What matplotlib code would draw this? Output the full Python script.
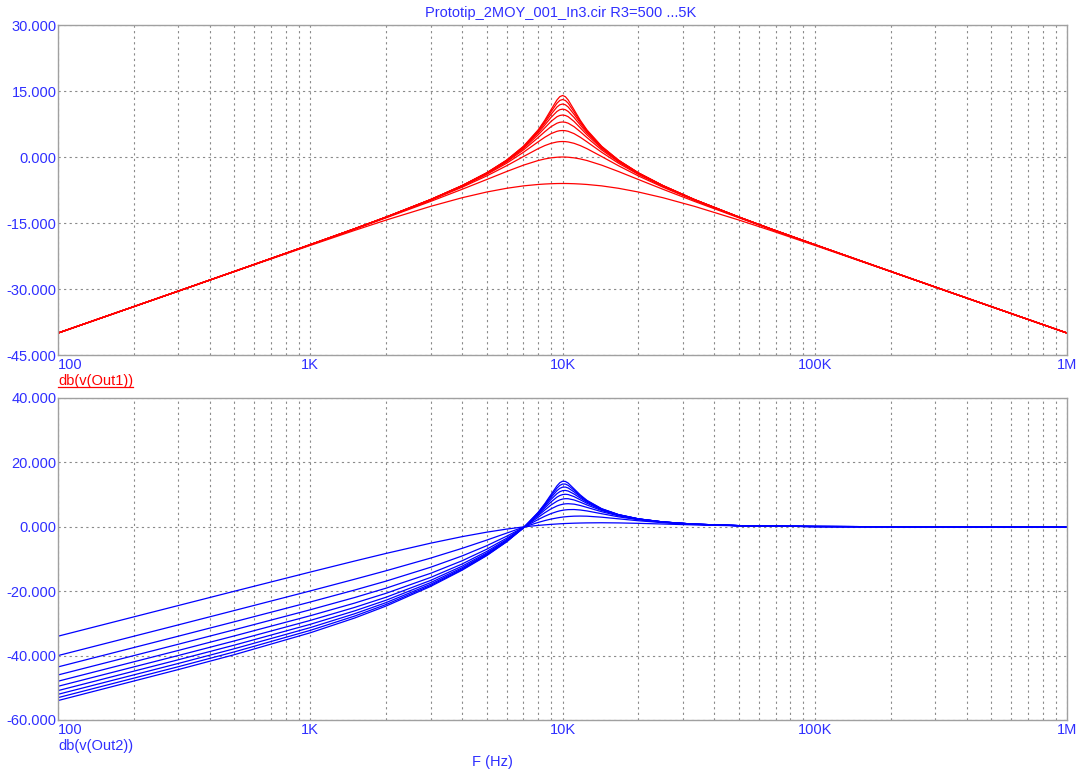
import matplotlib
matplotlib.use("Agg")
import matplotlib.pyplot as plt
from matplotlib.lines import Line2D
from matplotlib.ticker import FixedLocator, NullFormatter

plt.rcParams["font.family"] = ["Liberation Sans", "DejaVu Sans"]

# Data (dB values at each frequency, one list per R3 step)
freq_hz = [100, 300, 500, 1000, 1500, 2000, 3000, 4000, 5000, 6000, 7000,
           8000, 8500, 9000, 9500, 9750, 10000, 10260, 10530, 11110, 11760,
           12500, 14290, 16670, 20000, 25000, 33330, 50000, 66670, 100000,
           200000, 333300, 1000000]
r3_values = [500, 1000, 1500, 2000, 2500, 3000, 3500, 4000, 4500, 5000]

# db(v(Out1))
out1_r500 = [-40.00, -30.47, -26.04, -20.09, -16.67, -14.32, -11.21, -9.25, -7.96, -7.11, -6.56,
             -6.24, -6.14, -6.07, -6.03, -6.02, -6.02, -6.02, -6.03, -6.07, -6.14,
             -6.24, -6.56, -7.11, -7.96, -9.25, -11.21, -14.32, -16.67, -20.09, -26.04, -30.47, -40.00]
out1_r1000 = [-40.00, -30.46, -26.01, -19.96, -16.38, -13.81, -10.09, -7.33, -5.12, -3.30, -1.85,
              -0.80, -0.44, -0.19, -0.05, -0.01, 0.00, -0.01, -0.05, -0.19, -0.44,
              -0.80, -1.85, -3.30, -5.12, -7.33, -10.09, -13.81, -16.38, -19.96, -26.01, -30.46, -40.00]
out1_r1500 = [-40.00, -30.46, -26.00, -19.93, -16.33, -13.71, -9.84, -6.86, -4.31, -1.99, 0.11,
              1.89, 2.59, 3.11, 3.42, 3.50, 3.52, 3.50, 3.42, 3.11, 2.59,
              1.89, 0.11, -1.99, -4.31, -6.86, -9.84, -13.71, -16.33, -19.93, -26.00, -30.46, -40.00]
out1_r2000 = [-40.00, -30.46, -26.00, -19.92, -16.31, -13.67, -9.76, -6.68, -3.98, -1.42, 1.08,
              3.44, 4.48, 5.31, 5.84, 5.98, 6.02, 5.98, 5.84, 5.31, 4.48,
              3.44, 1.08, -1.42, -3.98, -6.68, -9.76, -13.67, -16.31, -19.92, -26.00, -30.46, -40.00]
out1_r2500 = [-40.00, -30.46, -26.00, -19.92, -16.30, -13.65, -9.71, -6.60, -3.82, -1.13, 1.61,
              4.41, 5.74, 6.89, 7.68, 7.89, 7.96, 7.89, 7.68, 6.89, 5.74,
              4.41, 1.61, -1.13, -3.82, -6.60, -9.71, -13.65, -16.30, -19.92, -26.00, -30.46, -40.00]
out1_r3000 = [-40.00, -30.46, -26.00, -19.91, -16.29, -13.65, -9.69, -6.55, -3.73, -0.97, 1.93,
              5.04, 6.62, 8.08, 9.15, 9.44, 9.54, 9.44, 9.15, 8.08, 6.62,
              5.04, 1.93, -0.97, -3.73, -6.55, -9.69, -13.65, -16.29, -19.91, -26.00, -30.46, -40.00]
out1_r3500 = [-40.00, -30.46, -26.00, -19.91, -16.29, -13.64, -9.68, -6.53, -3.68, -0.86, 2.13,
              5.47, 7.25, 8.99, 10.35, 10.75, 10.88, 10.75, 10.35, 8.99, 7.25,
              5.47, 2.13, -0.86, -3.68, -6.53, -9.68, -13.64, -16.29, -19.91, -26.00, -30.46, -40.00]
out1_r4000 = [-40.00, -30.46, -26.00, -19.91, -16.29, -13.64, -9.67, -6.51, -3.64, -0.79, 2.27,
              5.77, 7.72, 9.70, 11.36, 11.87, 12.04, 11.87, 11.36, 9.70, 7.72,
              5.77, 2.27, -0.79, -3.64, -6.51, -9.67, -13.64, -16.29, -19.91, -26.00, -30.46, -40.00]
out1_r4500 = [-40.00, -30.46, -26.00, -19.91, -16.29, -13.63, -9.66, -6.49, -3.62, -0.75, 2.36,
              5.99, 8.07, 10.27, 12.22, 12.85, 13.06, 12.85, 12.22, 10.27, 8.07,
              5.99, 2.36, -0.75, -3.62, -6.49, -9.66, -13.63, -16.29, -19.91, -26.00, -30.46, -40.00]
out1_r5000 = [-40.00, -30.46, -26.00, -19.91, -16.29, -13.63, -9.66, -6.48, -3.60, -0.71, 2.44,
              6.15, 8.34, 10.73, 12.96, 13.71, 13.98, 13.71, 12.96, 10.73, 8.34,
              6.15, 2.44, -0.71, -3.60, -6.48, -9.66, -13.63, -16.29, -19.91, -26.00, -30.46, -40.00]

# db(v(Out2))
out2_r500 = [-33.98, -24.45, -20.02, -14.06, -10.63, -8.26, -5.09, -3.06, -1.68, -0.72, -0.04,
             0.43, 0.60, 0.75, 0.87, 0.93, 0.97, 1.02, 1.05, 1.12, 1.17,
             1.21, 1.25, 1.20, 1.07, 0.86, 0.58, 0.30, 0.18, 0.08, 0.02, 0.01, 0.00]
out2_r1000 = [-40.00, -30.46, -26.00, -19.92, -16.28, -13.64, -9.72, -6.69, -4.15, -1.97, -0.12,
              1.35, 1.92, 2.39, 2.74, 2.89, 3.01, 3.11, 3.19, 3.30, 3.33,
              3.29, 2.98, 2.47, 1.87, 1.27, 0.74, 0.34, 0.20, 0.08, 0.02, 0.01, 0.00]
out2_r1500 = [-43.52, -33.97, -29.50, -23.36, -19.64, -16.86, -12.56, -9.05, -5.89, -2.94, -0.19,
              2.24, 3.26, 4.10, 4.71, 4.95, 5.12, 5.25, 5.33, 5.36, 5.21,
              4.92, 4.06, 3.09, 2.17, 1.40, 0.79, 0.35, 0.19, 0.09, 0.02, 0.01, 0.00]
out2_r2000 = [-46.02, -36.47, -31.98, -25.77, -21.96, -19.05, -14.45, -10.55, -6.99, -3.57, -0.23,
              2.93, 4.36, 5.56, 6.46, 6.77, 6.99, 7.13, 7.17, 7.03, 6.61,
              6.02, 4.68, 3.39, 2.30, 1.45, 0.79, 0.35, 0.19, 0.09, 0.02, 0.01, 0.00]
out2_r2500 = [-47.96, -38.40, -33.89, -27.62, -23.69, -20.64, -15.73, -11.55, -7.69, -3.97, -0.26,
              3.44, 5.20, 6.76, 7.94, 8.35, 8.61, 8.73, 8.71, 8.33, 7.63,
              6.77, 5.04, 3.55, 2.37, 1.47, 0.81, 0.36, 0.19, 0.09, 0.02, 0.01, 0.00]
out2_r3000 = [-49.54, -39.97, -35.45, -29.08, -25.03, -21.86, -16.66, -12.22, -8.15, -4.24, -0.28,
              3.80, 5.83, 7.72, 9.21, 9.70, 10.00, 10.10, 10.01, 9.37, 8.37,
              7.28, 5.26, 3.64, 2.41, 1.49, 0.81, 0.35, 0.20, 0.09, 0.02, 0.01, 0.00]
out2_r3500 = [-50.88, -41.29, -36.75, -30.29, -26.11, -22.79, -17.33, -12.70, -8.47, -4.41, -0.30,
              4.05, 6.30, 8.49, 10.28, 10.89, 11.22, 11.29, 11.10, 10.18, 8.91,
              7.63, 5.40, 3.70, 2.43, 1.49, 0.81, 0.35, 0.20, 0.09, 0.02, 0.01, 0.00]
out2_r4000 = [-52.03, -42.44, -37.87, -31.31, -27.00, -23.53, -17.84, -13.04, -8.69, -4.53, -0.31,
              4.24, 6.67, 9.11, 11.21, 11.93, 12.30, 12.34, 12.04, 10.83, 9.32,
              7.88, 5.50, 3.74, 2.45, 1.49, 0.81, 0.35, 0.19, 0.09, 0.02, 0.01, 0.00]
out2_r4500 = [-53.06, -43.45, -38.85, -32.17, -27.72, -24.12, -18.22, -13.28, -8.86, -4.63, -0.32,
              4.38, 6.95, 9.61, 12.01, 12.85, 13.27, 13.27, 12.86, 11.36, 9.63,
              8.06, 5.56, 3.76, 2.45, 1.50, 0.82, 0.36, 0.19, 0.09, 0.02, 0.01, 0.00]
out2_r5000 = [-53.97, -44.34, -39.72, -32.92, -28.33, -24.60, -18.52, -13.47, -8.98, -4.69, -0.32,
              4.48, 7.16, 10.02, 12.70, 13.67, 14.15, 14.09, 13.56, 11.78, 9.88,
              8.20, 5.62, 3.79, 2.46, 1.51, 0.81, 0.36, 0.19, 0.09, 0.02, 0.01, 0.00]

out1_curves = [out1_r500, out1_r1000, out1_r1500, out1_r2000, out1_r2500,
               out1_r3000, out1_r3500, out1_r4000, out1_r4500, out1_r5000]
out2_curves = [out2_r500, out2_r1000, out2_r1500, out2_r2000, out2_r2500,
               out2_r3000, out2_r3500, out2_r4000, out2_r4500, out2_r5000]

x_ticks = [100, 1000, 10000, 100000, 1000000]
x_tick_labels = ["100", "1K", "10K", "100K", "1M"]
y1_ticks = [-45, -30, -15, 0, 15, 30]
y2_ticks = [-60, -40, -20, 0, 20, 40]

text_blue = "#2f2fff"
grid_gray = "#8a8a8a"
frame_gray = "#a0a0a0"

fig = plt.figure(figsize=(10.81, 7.74), dpi=100)
ax1 = fig.add_axes([0.0537, 0.5413, 0.9334, 0.4264])
ax2 = fig.add_axes([0.0537, 0.0698, 0.9334, 0.4160])


def style_axes(ax, yticks):
    ax.set_xscale("log")
    ax.set_xlim(100, 1e6)
    ax.set_ylim(yticks[0], yticks[-1])
    ax.xaxis.set_major_locator(FixedLocator(x_ticks))
    minors = [m * d for d in [100, 1000, 10000, 100000] for m in range(2, 10)]
    ax.xaxis.set_minor_locator(FixedLocator(minors))
    ax.xaxis.set_minor_formatter(NullFormatter())
    ax.set_xticks(x_ticks)
    ax.set_xticklabels(x_tick_labels)
    ax.set_yticks(yticks)
    ax.set_yticklabels([f"{v:.3f}" for v in yticks])
    ax.grid(which="both", axis="x", color=grid_gray, linestyle=(0, (2, 3)), linewidth=0.8)
    ax.grid(which="major", axis="y", color=grid_gray, linestyle=(0, (2, 3)), linewidth=0.8)
    ax.set_axisbelow(True)
    ax.tick_params(axis="both", which="both", length=0, colors=text_blue, labelsize=10.5)
    ax.tick_params(axis="y", pad=1)
    ax.tick_params(axis="x", pad=2)
    ax.get_xticklabels()[0].set_horizontalalignment("left")
    for sp in ax.spines.values():
        sp.set_color(frame_gray)
        sp.set_linewidth(1.0)


style_axes(ax1, y1_ticks)
style_axes(ax2, y2_ticks)

for curve in out1_curves:
    ax1.plot(freq_hz, curve, color="#ff0000", linewidth=0.9)
for curve in out2_curves:
    ax2.plot(freq_hz, curve, color="#0000ff", linewidth=0.9)

fig.text(561 / 1081, 1 - 13 / 774, "Prototip_2MOY_001_In3.cir R3=500 ...5K",
         color=text_blue, fontsize=10.5, ha="center", va="center")
lab1 = fig.text(58 / 1081, 1 - 381 / 774, "db(v(Out1))", color="#ff0000",
                fontsize=10.5, ha="left", va="center")
fig.text(58 / 1081, 1 - 746 / 774, "db(v(Out2))", color=text_blue,
         fontsize=10.5, ha="left", va="center")
fig.text(492 / 1081, 1 - 762 / 774, "F (Hz)", color=text_blue,
         fontsize=10.5, ha="center", va="center")

# underline the first trace label
fig.canvas.draw()
bb = lab1.get_window_extent(fig.canvas.get_renderer()).transformed(fig.transFigure.inverted())
fig.add_artist(Line2D([bb.x0, bb.x1], [bb.y0 + 0.001, bb.y0 + 0.001],
                      transform=fig.transFigure, color="#ff0000", linewidth=0.9))

fig.savefig("out.png", dpi=100)
